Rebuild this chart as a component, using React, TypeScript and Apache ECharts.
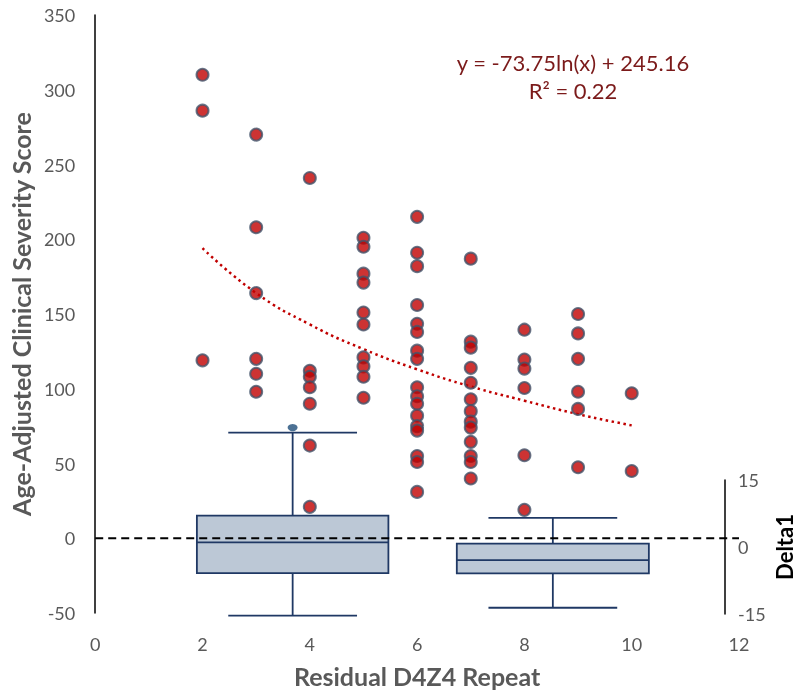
import React, { useEffect, useRef } from "react";
import * as echarts from "echarts";

// ---- data ----
const X_TICKS = [0, 2, 4, 6, 8, 10, 12];
const Y_TICKS = [-50, 0, 50, 100, 150, 200, 250, 300, 350];

const COL2 = [310, 286, 119];
const COL3 = [270, 208, 164, 120, 110, 98];
const COL4 = [241, 112, 108, 101, 90, 62, 21];
const COL5 = [201, 195, 177, 171, 151, 143, 121, 115, 108, 94];
const COL6 = [215, 191, 182, 156, 143.5, 138, 125.5, 120, 101, 95, 90, 82, 75, 72, 55, 51, 31];
const COL7 = [187, 131.5, 127.5, 114, 104, 93, 85, 78, 74, 64.5, 55, 51, 40];
const COL8 = [139.5, 119.5, 113.5, 100.5, 55.5, 19];
const COL9 = [150, 137, 120, 98, 86.5, 47.5];
const COL10 = [97, 45];

const TREND_X = [2, 3, 4, 5, 6, 7, 8, 9, 10];
const TREND_Y = [194, 164, 143, 126.5, 113, 101.5, 92, 83, 75.5];

// boxes: [center, boxHalfWidth, capHalfWidth, low, q1, median, q3, high]
const BOX_1 = [3.68, 1.785, 1.2, -51.7, -23.3, -2.7, 15.2, 70.6];
const BOX_2 = [8.53, 1.79, 1.2, -46.5, -23.5, -14.6, -3.6, 13.6];
const BOX_OUTLIERS = [[3.68, 74]];

const DELTA_TICKS = [-15, 0, 15];

const FONT = "Lato, 'Open Sans', sans-serif";
const GRAY = "#595959";

export default function App() {
  const ref = useRef<HTMLDivElement>(null);

  useEffect(() => {
    if (!ref.current) return;
    const chart = echarts.init(ref.current, null, { renderer: "svg" });

    const cols: [number, number[]][] = [
      [2, COL2], [3, COL3], [4, COL4], [5, COL5], [6, COL6],
      [7, COL7], [8, COL8], [9, COL9], [10, COL10],
    ];
    const points: number[][] = [];
    cols.forEach(([x, ys]) => ys.forEach((y) => points.push([x, y])));

    const trend = TREND_X.map((x, i) => [x, TREND_Y[i]]);

    const boxColor = "#1F3864";

    chart.setOption({
      animation: false,
      textStyle: { fontFamily: FONT },
      grid: [
        { left: 92, right: 61, top: 15, bottom: 81 },
        { left: 724, width: 1, top: 480, height: 134 },
      ],
      xAxis: [
        {
          type: "value",
          min: 0,
          max: 12,
          interval: 2,
          axisLine: { show: false },
          axisTick: { show: false },
          splitLine: { show: false },
          axisLabel: {
            color: GRAY,
            fontSize: 18,
            margin: 22,
            fontFamily: FONT,
            formatter: (v: number) => (X_TICKS.includes(v) ? String(v) : ""),
          },
          name: "Residual D4Z4 Repeat",
          nameLocation: "middle",
          nameGap: 50,
          nameTextStyle: { color: GRAY, fontSize: 25, fontWeight: "bold", fontFamily: FONT },
        },
        {
          type: "value",
          gridIndex: 1,
          min: 0,
          max: 1,
          show: false,
        },
      ],
      yAxis: [
        {
          type: "value",
          min: -50,
          max: 350,
          interval: 50,
          axisLine: { show: true, lineStyle: { color: "#000", width: 1.5 } },
          axisTick: { show: false },
          splitLine: { show: false },
          axisLabel: {
            color: GRAY,
            fontSize: 18,
            margin: 20,
            fontFamily: FONT,
            formatter: (v: number) => (Y_TICKS.includes(v) ? String(v) : ""),
          },
          name: "Age-Adjusted Clinical Severity Score",
          nameLocation: "middle",
          nameGap: 62,
          nameTextStyle: { color: GRAY, fontSize: 25, fontWeight: "bold", fontFamily: FONT },
        },
        {
          type: "value",
          gridIndex: 1,
          position: "right",
          min: -15,
          max: 15,
          interval: 15,
          axisLine: { show: true, onZero: false, lineStyle: { color: "#000", width: 1.5 } },
          axisTick: { show: false },
          splitLine: { show: false },
          axisLabel: {
            color: GRAY,
            fontSize: 18,
            margin: 13,
            fontFamily: FONT,
            formatter: (v: number) => (DELTA_TICKS.includes(v) ? String(v) : ""),
          },
          name: "Delta1",
          nameLocation: "middle",
          nameGap: 48,
          nameRotate: 90,
          nameTextStyle: { color: "#000", fontSize: 22, fontWeight: "bold", fontFamily: FONT },
        },
      ],
      graphic: [
        {
          type: "text",
          x: 573,
          y: 62,
          style: {
            text: "y = -73.75ln(x) + 245.16",
            fill: "#7B1A1A",
            fontSize: 22,
            fontFamily: FONT,
            align: "center",
            verticalAlign: "middle",
          },
        },
        {
          type: "text",
          x: 573,
          y: 90,
          style: {
            text: "R² = 0.22",
            fill: "#7B1A1A",
            fontSize: 22,
            fontFamily: FONT,
            align: "center",
            verticalAlign: "middle",
          },
        },
      ],
      series: [
        {
          type: "custom",
          z: 1,
          data: [BOX_1, BOX_2],
          renderItem: (params: any, api: any) => {
            const c = api.value(0);
            const hw = api.value(1);
            const cw = api.value(2);
            const low = api.value(3);
            const q1 = api.value(4);
            const med = api.value(5);
            const q3 = api.value(6);
            const high = api.value(7);
            const pL = api.coord([c - hw, q3]);
            const pR = api.coord([c + hw, q1]);
            const pMedL = api.coord([c - hw, med]);
            const pMedR = api.coord([c + hw, med]);
            const pCapL = api.coord([c - cw, high]);
            const pCapR = api.coord([c + cw, high]);
            const pLowL = api.coord([c - cw, low]);
            const pLowR = api.coord([c + cw, low]);
            const pC_hi = api.coord([c, high]);
            const pC_q3 = api.coord([c, q3]);
            const pC_q1 = api.coord([c, q1]);
            const pC_lo = api.coord([c, low]);
            const ls = { stroke: boxColor, lineWidth: 1.8 };
            return {
              type: "group",
              children: [
                { type: "line", shape: { x1: pC_hi[0], y1: pC_hi[1], x2: pC_q3[0], y2: pC_q3[1] }, style: ls },
                { type: "line", shape: { x1: pC_q1[0], y1: pC_q1[1], x2: pC_lo[0], y2: pC_lo[1] }, style: ls },
                { type: "line", shape: { x1: pCapL[0], y1: pCapL[1], x2: pCapR[0], y2: pCapR[1] }, style: ls },
                { type: "line", shape: { x1: pLowL[0], y1: pLowL[1], x2: pLowR[0], y2: pLowR[1] }, style: ls },
                {
                  type: "rect",
                  shape: { x: pL[0], y: pL[1], width: pR[0] - pL[0], height: pR[1] - pL[1] },
                  style: { fill: "#BCC8D6", stroke: boxColor, lineWidth: 1.8 },
                },
                { type: "line", shape: { x1: pMedL[0], y1: pMedL[1], x2: pMedR[0], y2: pMedR[1] }, style: ls },
              ],
            };
          },
        },
        {
          type: "line",
          z: 2,
          data: [[0, 0], [12, 0]],
          symbol: "none",
          lineStyle: { color: "#000", width: 2, type: [8, 5] },
        },
        {
          type: "scatter",
          z: 3,
          data: BOX_OUTLIERS,
          symbol: "circle",
          symbolSize: [10, 7],
          itemStyle: { color: "#1F4E79" },
        },
        {
          type: "line",
          z: 3,
          data: trend,
          smooth: true,
          symbol: "none",
          lineStyle: { color: "#C00000", width: 2.5, type: [2.5, 3.5] },
        },
        {
          type: "scatter",
          z: 4,
          data: points,
          symbol: "circle",
          symbolSize: 12,
          itemStyle: { color: "#C00000", borderColor: "#44546A", borderWidth: 2 },
        },
        {
          type: "scatter",
          xAxisIndex: 1,
          yAxisIndex: 1,
          data: [],
        },
      ],
    });

    return () => chart.dispose();
  }, []);

  return (
    <div
      ref={ref}
      style={{ position: "fixed", left: 0, top: 0, width: 800, height: 694 }}
    />
  );
}
